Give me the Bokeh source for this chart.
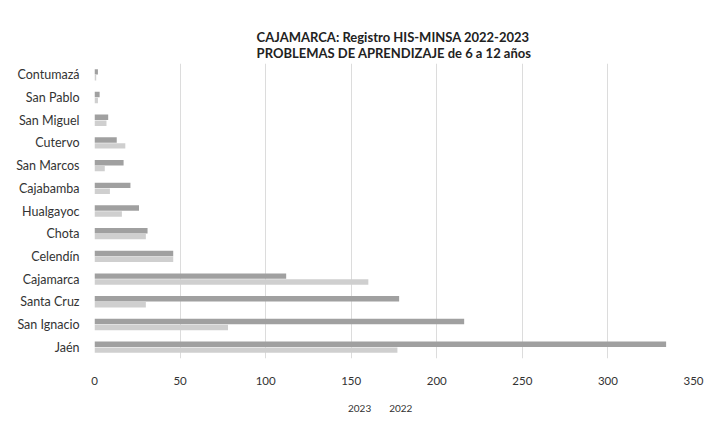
from bokeh.plotting import figure
from bokeh.layouts import column
from bokeh.models import FactorRange, Range1d, FixedTicker, Legend, LegendItem, ColumnDataSource
from bokeh.transform import dodge
from bokeh.embed import file_html
from bokeh.resources import INLINE

provinces = ["Contumazá", "San Pablo", "San Miguel", "Cutervo", "San Marcos", "Cajabamba",
             "Hualgayoc", "Chota", "Celendín", "Cajamarca", "Santa Cruz", "San Ignacio", "Jaén"]
v2023 = [2, 3, 8, 13, 17, 21, 26, 31, 46, 112, 178, 216, 334]
v2022 = [1, 2, 7, 18, 6, 9, 16, 30, 46, 160, 30, 78, 177]
x_ticks = [0, 50, 100, 150, 200, 250, 300, 350]
series_names = ["2023", "2022"]
series_colors = ["#a0a0a0", "#cfcfcf"]

cats = list(reversed(provinces))
src = ColumnDataSource(dict(cat=provinces, a=v2023, b=v2022))

FONT = "Lato"
p = figure(frame_width=599, frame_height=295, output_backend="svg", toolbar_location=None,
           y_range=FactorRange(factors=cats, range_padding=0),
           x_range=Range1d(0, 350),
           min_border_left=94, min_border_right=12, min_border_top=63, min_border_bottom=32)

p.title.text = "CAJAMARCA: Registro HIS-MINSA 2022-2023\nPROBLEMAS DE APRENDIZAJE de 6 a 12 años"
p.title.align = "center"
p.title.text_font = FONT
p.title.text_font_size = "13px"
p.title.text_font_style = "bold"
p.title.text_color = "#222222"
p.title.standoff = 5

p.hbar(y=dodge("cat", 0.13, range=p.y_range), right="a", left=0, height=0.24,
       source=src, fill_color=series_colors[0], line_color=None)
p.hbar(y=dodge("cat", -0.13, range=p.y_range), right="b", left=0, height=0.24,
       source=src, fill_color=series_colors[1], line_color=None)

p.outline_line_color = None
p.ygrid.grid_line_color = None
p.xgrid.grid_line_color = "#dcdcdc"
p.xaxis.ticker = FixedTicker(ticks=x_ticks)
for ax in (p.xaxis[0], p.yaxis[0]):
    ax.axis_line_color = None
    ax.major_tick_line_color = None
    ax.minor_tick_line_color = None
    ax.major_label_text_font = FONT
    ax.major_label_text_color = "#333333"
p.xaxis.major_label_text_font_size = "11.5px"
p.yaxis.major_label_text_font_size = "12.5px"
p.xaxis.major_label_standoff = 12
p.yaxis.major_label_standoff = 9

# legend strip below the chart
lf = figure(width=705, height=28, output_backend="svg", toolbar_location=None,
            x_range=Range1d(0, 1), y_range=Range1d(0, 1),
            x_axis_type=None, y_axis_type=None, min_border=0)
lf.outline_line_color = None
lf.grid.visible = False
items = []
for name, col in zip(series_names, series_colors):
    r = lf.quad(left=[], right=[], top=[], bottom=[], fill_color=col, line_color=None)
    items.append(LegendItem(label=name, renderers=[r]))
legend = Legend(items=items, orientation="horizontal", location=(244, 4),
                label_text_font=FONT, label_text_font_size="10px", label_text_color="#333333",
                glyph_width=7, glyph_height=7, label_height=12, label_standoff=3, spacing=8,
                border_line_color=None, background_fill_alpha=0, margin=0, padding=2)
lf.add_layout(legend)

layout = column(p, lf, spacing=0)
open("out.html", "w").write(file_html(layout, INLINE))
